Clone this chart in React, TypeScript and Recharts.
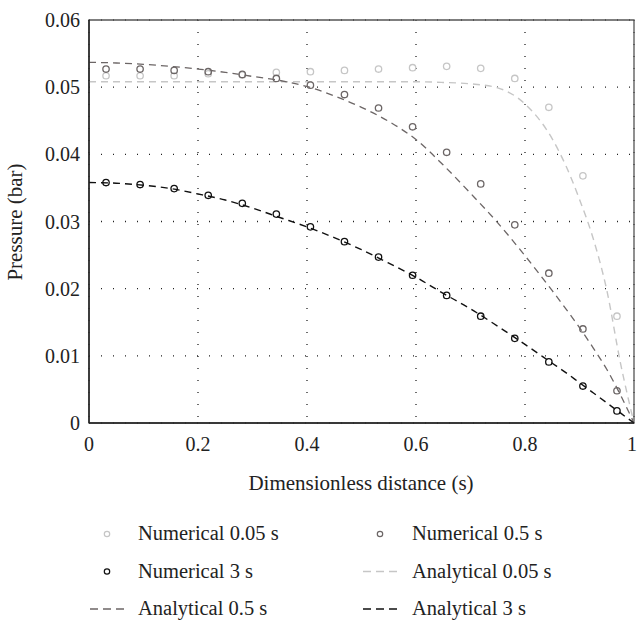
import React from 'react';
import { ComposedChart, Line, Scatter, XAxis, YAxis, CartesianGrid, ReferenceArea, Label } from 'recharts';

// numerical solution sample positions (cell centres)
const numX = [0.03125, 0.09375, 0.15625, 0.21875, 0.28125, 0.34375, 0.40625, 0.46875,
  0.53125, 0.59375, 0.65625, 0.71875, 0.78125, 0.84375, 0.90625, 0.96875];
const num005 = [0.0517, 0.0517, 0.0517, 0.0520, 0.0518, 0.0522, 0.0523, 0.0525,
  0.0527, 0.0529, 0.0531, 0.0528, 0.0513, 0.0470, 0.0368, 0.0159];
const num05 = [0.0527, 0.0527, 0.0525, 0.0523, 0.0519, 0.0513, 0.0503, 0.0489,
  0.0469, 0.0441, 0.0403, 0.0356, 0.0295, 0.0223, 0.0140, 0.0048];
const num3 = [0.0358, 0.0355, 0.0349, 0.0339, 0.0327, 0.0311, 0.0292, 0.0270,
  0.0247, 0.0220, 0.0190, 0.0159, 0.0126, 0.0091, 0.0055, 0.0018];

// analytical curves
const anX = [0, 0.05, 0.1, 0.15, 0.2, 0.25, 0.3, 0.35, 0.4, 0.45, 0.5, 0.55,
  0.6, 0.65, 0.7, 0.75, 0.8, 0.85, 0.875, 0.9, 0.925, 0.95, 0.975, 1];
const an005 = [0.0508, 0.0508, 0.0508, 0.0508, 0.0508, 0.0508, 0.0508, 0.0508, 0.0508, 0.0508, 0.0508, 0.0508,
  0.0508, 0.0507, 0.0505, 0.0499, 0.0475, 0.0423, 0.0383, 0.0333, 0.0275, 0.0198, 0.0090, 0];
const an05 = [0.0537, 0.0536, 0.0534, 0.0531, 0.0527, 0.0522, 0.0516, 0.0510, 0.0501, 0.0487, 0.0470, 0.0449,
  0.0422, 0.0384, 0.0342, 0.0298, 0.0249, 0.0197, 0.0170, 0.0142, 0.0112, 0.0080, 0.0042, 0];
const an3 = [0.0358, 0.0357, 0.0354, 0.0349, 0.0341, 0.0332, 0.0320, 0.0306, 0.0292, 0.0276, 0.0258, 0.0238,
  0.0217, 0.0193, 0.0170, 0.0144, 0.0117, 0.0089, 0.0075, 0.0060, 0.0045, 0.0030, 0.0015, 0];

const xTicks = [0, 0.2, 0.4, 0.6, 0.8, 1];
const yTicks = [0, 0.01, 0.02, 0.03, 0.04, 0.05, 0.06];

const W = 637;
const H = 622;
const font = '"Liberation Serif", "Times New Roman", serif';
const LIGHT = '#c6c6c6';
const MID = '#6c6666';
const DARK = '#111111';
const DASH = '7 5';

const pts = (xs: number[], ys: number[]) => xs.map((x, i) => ({ x, y: ys[i] }));

const ring = (color: string) => (props: any) => (
  <circle cx={props.cx} cy={props.cy} r={3.2} fill="none" stroke={color} strokeWidth={1.3} />
);

const fmtX = (v: number) => (v === 0 ? '0' : v === 1 ? '1' : v.toFixed(1));
const fmtY = (v: number) => (v === 0 ? '0' : v.toFixed(2));

const legend = [
  { name: 'Numerical 0.05 s', kind: 'ring', color: LIGHT },
  { name: 'Numerical 0.5 s', kind: 'ring', color: MID },
  { name: 'Numerical 3 s', kind: 'ring', color: DARK },
  { name: 'Analytical 0.05 s', kind: 'dash', color: LIGHT },
  { name: 'Analytical 0.5 s', kind: 'dash', color: MID },
  { name: 'Analytical 3 s', kind: 'dash', color: DARK },
];

const Legend6 = () => {
  const rowY = [24, 61.5, 99];
  const colX = [107, 380];
  const textX = [138, 412];
  return (
    <svg width={W} height={112} style={{ position: 'absolute', left: 0, top: 510 }}>
      {legend.map((item, i) => {
        const r = Math.floor(i / 2);
        const c = i % 2;
        const cy = rowY[r];
        return (
          <g key={item.name}>
            {item.kind === 'ring' ? (
              <circle cx={colX[c]} cy={cy} r={2.7} fill="none" stroke={item.color} strokeWidth={1.2} />
            ) : (
              <line x1={colX[c] - 17} x2={colX[c] + 17} y1={cy} y2={cy}
                stroke={item.color} strokeWidth={1.3} strokeDasharray="8 5" />
            )}
            <text x={textX[c]} y={cy + 6} fontFamily={font} fontSize={20.5} fill="#222">{item.name}</text>
          </g>
        );
      })}
    </svg>
  );
};

export default function App() {
  return (
    <div style={{ position: 'absolute', left: 0, top: 0, width: W, height: H, background: '#fff' }}>
      <ComposedChart width={W} height={H} margin={{ top: 20, right: 3, bottom: 169, left: 0 }}>
        <CartesianGrid stroke="#222" strokeWidth={1.3} strokeDasharray="1 11" />
        <XAxis type="number" dataKey="x" domain={[0, 1]} ticks={xTicks} tickFormatter={fmtX}
          tick={{ fill: '#222', fontSize: 20, fontFamily: font }} tickLine={false}
          axisLine={{ stroke: '#222', strokeWidth: 1.5 }} tickMargin={8} height={30}>
          <Label content={() => (
            <text x={361} y={490} textAnchor="middle" fontFamily={font} fontSize={21} fill="#222">
              Dimensionless distance (s)
            </text>
          )} />
        </XAxis>
        <YAxis type="number" domain={[0, 0.06]} ticks={yTicks} tickFormatter={fmtY}
          tick={{ fill: '#222', fontSize: 20, fontFamily: font }} tickLine={false}
          axisLine={{ stroke: '#222', strokeWidth: 1.5 }} tickMargin={3} width={89}>
          <Label content={() => (
            <text x={22} y={222} transform="rotate(-90 22 222)" textAnchor="middle"
              fontFamily={font} fontSize={21} fill="#222">
              Pressure (bar)
            </text>
          )} />
        </YAxis>
        <ReferenceArea x1={0} x2={1} y1={0} y2={0.06} fill="none" stroke="#555" strokeWidth={1.3} />

        <Line data={pts(anX, an005)} dataKey="y" type="monotone" stroke={LIGHT} strokeWidth={1.4}
          strokeDasharray={DASH} dot={false} activeDot={false} isAnimationActive={false} />
        <Line data={pts(anX, an05)} dataKey="y" type="monotone" stroke={MID} strokeWidth={1.3}
          strokeDasharray={DASH} dot={false} activeDot={false} isAnimationActive={false} />
        <Line data={pts(anX, an3)} dataKey="y" type="monotone" stroke={DARK} strokeWidth={1.4}
          strokeDasharray={DASH} dot={false} activeDot={false} isAnimationActive={false} />

        <Scatter data={pts(numX, num005)} dataKey="y" shape={ring(LIGHT)} isAnimationActive={false} />
        <Scatter data={pts(numX, num05)} dataKey="y" shape={ring(MID)} isAnimationActive={false} />
        <Scatter data={pts(numX, num3)} dataKey="y" shape={ring(DARK)} isAnimationActive={false} />
      </ComposedChart>
      <Legend6 />
    </div>
  );
}
